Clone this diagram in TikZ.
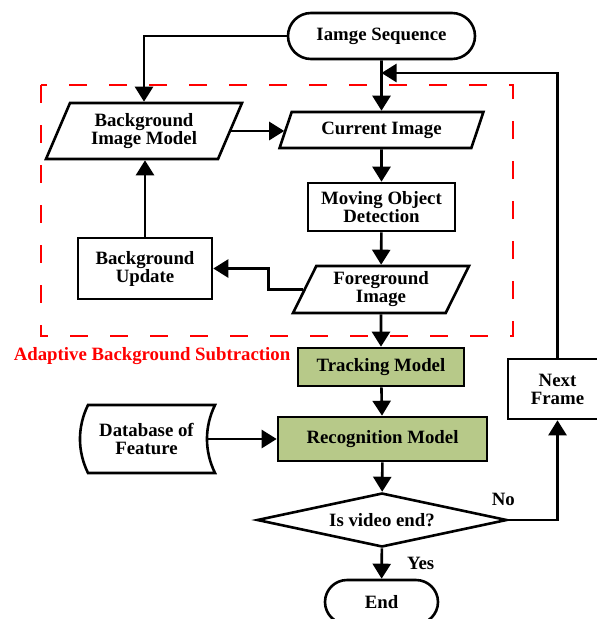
\documentclass[tikz,border=0pt]{standalone}
\usepackage{fontspec}
\setmainfont{Liberation Serif}
\usetikzlibrary{arrows.meta,shapes.geometric,shapes.misc,positioning}
\definecolor{modelgreen}{RGB}{183,201,137}
\definecolor{framered}{RGB}{255,0,0}

\begin{document}
\begin{tikzpicture}[x=1pt, y=-1pt,
    every node/.style={font=\fontsize{18.8}{18}\selectfont\bfseries, align=center, inner sep=0pt},
    base/.style={draw, line width=2.6pt},
    box/.style={base, rectangle},
    model/.style={box, fill=modelgreen},
    io/.style={base, trapezium, trapezium left angle=64, trapezium right angle=116, trapezium stretches=true},
    term/.style={base, rounded rectangle},
    decide/.style={base, diamond, aspect=4.6},
    arr/.style={line width=2.6pt, -{Triangle[length=15pt,width=18pt]}}]
    \clip (0,0) rectangle (597,619);
    % Frame
    \draw[framered, line width=2.6pt, dash pattern=on 18pt off 22pt] (41,85) rectangle (513,336);
    \node[text=framered] (abs) at (152,356) {Adaptive Background Subtraction};
    % Steps
    \node[term, minimum width=187pt, minimum height=46pt] (seq) at (381.5,36) {Iamge Sequence};
    \node[io, minimum width=196pt, minimum height=56pt] (bim) at (144,131) {Background\\Image Model};
    \node[io, minimum width=204pt, minimum height=36pt] (cur) at (381.5,130) {Current Image};
    \node[box, minimum width=147pt, minimum height=48pt] (mod) at (381.5,207) {Moving Object\\Detection};
    \node[io, minimum width=176pt, minimum height=47pt] (fg) at (381,289.5) {Foreground\\Image};
    \node[box, minimum width=134pt, minimum height=61pt] (bgu) at (145,268.5) {Background\\Update};
    \node[model, minimum width=166pt, minimum height=38pt] (trk) at (381,367) {Tracking Model};
    \node[model, minimum width=209pt, minimum height=44pt] (rec) at (382.5,439) {Recognition Model};
    \node[minimum width=121pt, minimum height=68pt] (db) at (146.5,439) {Database of\\Feature};
    \draw[base, shift={(db.center)}] (-58.5,-34) -- (68.5,-34)
         .. controls (57.8,-12) and (57.8,12) .. (68.5,34) -- (-58.5,34)
         .. controls (-69.2,12) and (-69.2,-12) .. (-58.5,-34) -- cycle;
    \node[decide, minimum width=250pt, minimum height=54pt] (dec) at (382,520) {Is video end?};
    \node[term, minimum width=113pt, minimum height=44pt] (end) at (381.5,602) {End};
    \node[box, minimum width=99pt, minimum height=60pt] (nxt) at (557.5,389) {Next\\Frame};
    \coordinate (join) at (381.5,73);
    % Arrows
    \draw[arr] (seq) -- (cur);
    \draw[arr] (nxt.north) |- (join);
    \draw[arr] (seq.west) -| (bim.north);
    \draw[arr] (bim.east) -- (bim.east -| cur.west);
    \draw[arr] (cur) -- (mod);
    \draw[arr] (mod) -- (fg);
    \draw[arr] (fg.west) -- ++(-35,0) |- (bgu.east);
    \draw[arr] (bgu.north) -- (bgu.north |- bim.south);
    \draw[arr] (fg) -- (trk);
    \draw[arr] (trk) -- (rec);
    \draw[arr] (db.east) -- (rec.west);
    \draw[arr] (rec) -- (dec);
    \draw[arr] (dec) -- (end) node[midway, right=24pt] {Yes};
    \draw[arr] (dec.east) -| (nxt.south) node[pos=0, xshift=-5pt, yshift=21pt] {No};
\end{tikzpicture}
\end{document}
